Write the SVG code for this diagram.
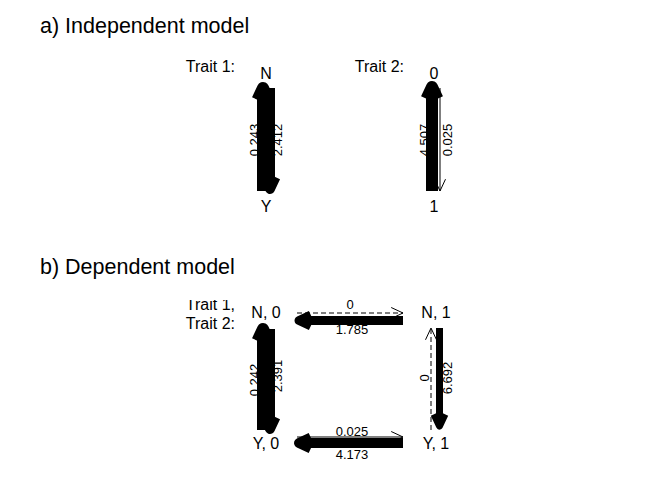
<svg xmlns="http://www.w3.org/2000/svg" width="672" height="480" viewBox="0 0 672 480">
  <style>
    text { font-family: "Liberation Sans", Arial, sans-serif; fill: #000; }
    .title { font-size: 21.5px; }
    .trait { font-size: 16px; text-anchor: end; }
    .state { font-size: 16px; text-anchor: middle; }
    .rate { font-size: 13px; text-anchor: middle; }
    .shaft { stroke: #000; fill: none; stroke-linecap: butt; }
    .head { stroke: #000; fill: none; stroke-linecap: butt; stroke-linejoin: round; }
    .thin { stroke-width: 1; }
    .dash { stroke-dasharray: 5 3; }
  </style>
  <defs>
    <clipPath id="plotRegion">
      <rect x="0" y="300" width="672" height="180"/>
    </clipPath>
  </defs>

  <rect width="672" height="480" fill="#fff"/>

  <!-- a) Independent model -->
  <text class="title" x="40" y="33">a) Independent model</text>

  <g id="trait1-label"><text class="trait" x="235" y="72">Trait 1:</text></g>
  <g id="node-N"><text class="state" x="266" y="79">N</text></g>
  <g id="node-Y"><text class="state" x="266" y="212">Y</text></g>

  <g id="trait2-label"><text class="trait" x="404" y="72">Trait 2:</text></g>
  <g id="node-0"><text class="state" x="434" y="79">0</text></g>
  <g id="node-1"><text class="state" x="434" y="212">1</text></g>

  <g id="connectors-independent">
    <!-- Y -> N -->
    <line class="shaft" x1="263" y1="191" x2="263" y2="88" stroke-width="12"/>
    <polyline class="head" points="257.5,99.8 263,88 268.5,99.8" stroke-width="12"/>
    <!-- N -> Y -->
    <line class="shaft" x1="270" y1="88" x2="270" y2="189" stroke-width="10"/>
    <polyline class="head" points="264.5,177.2 270,189 275.5,177.2" stroke-width="10"/>
    <!-- 1 -> 0 -->
    <line class="shaft" x1="432" y1="191" x2="432" y2="87" stroke-width="12"/>
    <polyline class="head" points="426.5,98.8 432,87 437.5,98.8" stroke-width="12"/>
    <!-- 0 -> 1 -->
    <line class="shaft thin" x1="440" y1="88" x2="440" y2="191"/>
    <polyline class="head thin" points="434.5,179.2 440,191 445.5,179.2"/>
  </g>

  <g id="rates-independent">
    <text class="rate" transform="translate(259,140) rotate(-90)">0.243</text>
    <text class="rate" transform="translate(282,140) rotate(-90)">2.412</text>
    <text class="rate" transform="translate(429,140) rotate(-90)">4.507</text>
    <text class="rate" transform="translate(452,140) rotate(-90)">0.025</text>
  </g>

  <!-- b) Dependent model -->
  <text class="title" x="40" y="274">b) Dependent model</text>

  <g id="traits-label" clip-path="url(#plotRegion)">
    <text class="trait" x="235" y="310">Trait 1,</text>
    <text class="trait" x="235" y="329">Trait 2:</text>
  </g>
  <g id="node-N0"><text class="state" x="266" y="318">N, 0</text></g>
  <g id="node-N1"><text class="state" x="436" y="318">N, 1</text></g>
  <g id="node-Y0"><text class="state" x="266" y="449">Y, 0</text></g>
  <g id="node-Y1"><text class="state" x="436" y="449">Y, 1</text></g>

  <g id="connectors-dependent">
    <!-- N,0 -> N,1 (dashed) -->
    <line class="shaft thin dash" x1="297" y1="313" x2="403" y2="313"/>
    <polyline class="head thin" points="391.2,307.5 403,313 391.2,318.5"/>
    <!-- N,1 -> N,0 -->
    <line class="shaft" x1="403" y1="320.5" x2="299" y2="320.5" stroke-width="9"/>
    <polyline class="head" points="310.8,315 299,320.5 310.8,326" stroke-width="9"/>
    <!-- Y,0 -> Y,1 -->
    <line class="shaft thin" x1="297" y1="437" x2="403" y2="437"/>
    <polyline class="head thin" points="391.2,431.5 403,437 391.2,442.5"/>
    <!-- Y,1 -> Y,0 -->
    <line class="shaft" x1="403" y1="443" x2="299" y2="443" stroke-width="10"/>
    <polyline class="head" points="310.8,437.5 299,443 310.8,448.5" stroke-width="10"/>
    <!-- Y,0 -> N,0 -->
    <line class="shaft" x1="263" y1="430" x2="263" y2="329" stroke-width="12"/>
    <polyline class="head" points="257.5,340.8 263,329 268.5,340.8" stroke-width="12"/>
    <!-- N,0 -> Y,0 -->
    <line class="shaft" x1="270" y1="329" x2="270" y2="429" stroke-width="10"/>
    <polyline class="head" points="264.5,417.2 270,429 275.5,417.2" stroke-width="10"/>
    <!-- Y,1 -> N,1 (dashed) -->
    <line class="shaft thin dash" x1="431" y1="430" x2="431" y2="328"/>
    <polyline class="head thin" points="425.5,339.8 431,328 436.5,339.8"/>
    <!-- N,1 -> Y,1 -->
    <line class="shaft" x1="439.5" y1="328" x2="439.5" y2="426" stroke-width="7"/>
    <polyline class="head" points="434,414.2 439.5,426 445,414.2" stroke-width="7"/>
  </g>

  <g id="rates-dependent">
    <text class="rate" x="350" y="309">0</text>
    <text class="rate" x="352" y="334">1.785</text>
    <text class="rate" x="352" y="436">0.025</text>
    <text class="rate" x="352" y="459">4.173</text>
    <text class="rate" transform="translate(259,380) rotate(-90)">0.242</text>
    <text class="rate" transform="translate(282,376) rotate(-90)">2.391</text>
    <text class="rate" transform="translate(429,378) rotate(-90)">0</text>
    <text class="rate" transform="translate(452,378) rotate(-90)">6.692</text>
  </g>
</svg>
